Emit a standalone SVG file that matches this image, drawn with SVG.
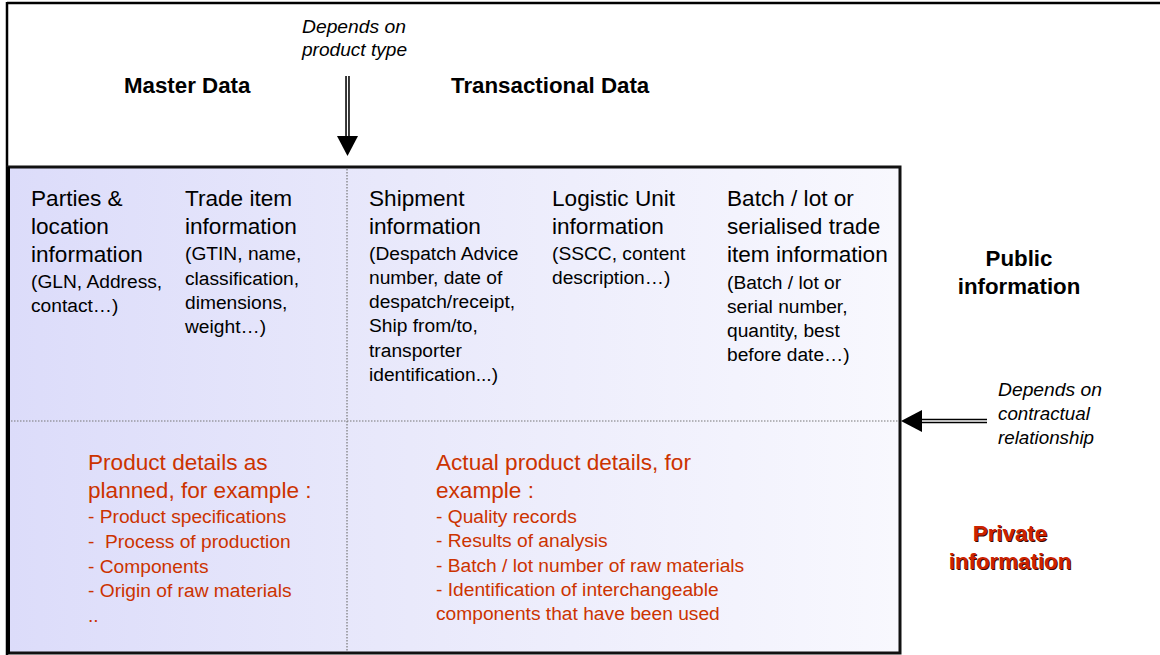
<svg xmlns="http://www.w3.org/2000/svg" width="1160" height="655" viewBox="0 0 1160 655">
<defs>
<linearGradient id="bg" x1="0" y1="0" x2="1" y2="0">
<stop offset="0" stop-color="#dcdcfa"/>
<stop offset="0.45" stop-color="#e9e9fb"/>
<stop offset="1" stop-color="#f8f8fe"/>
</linearGradient>
<style>
.t{font-family:"Liberation Sans",Arial,sans-serif;fill:#000}
.h{font-size:22.6px}
.s{font-size:19.2px}
.b{font-weight:bold;font-size:22.3px}
.i{font-style:italic;font-size:18.8px}
.r{fill:#cc3300}
.rb{fill:#cc2200;font-weight:bold;font-size:22.3px}
.sh{fill:#3a0800;font-weight:bold;font-size:22.3px}
.dot{stroke:#777;stroke-width:1.2;stroke-dasharray:1.5 1.5;fill:none}
.shaft{stroke:#000;stroke-width:4.5;fill:none}
.gap{stroke:#fff;stroke-width:1.4;fill:none}
</style>
</defs>
<rect width="1160" height="655" fill="#fff"/>
<g id="frame">
<line x1="7" y1="3" x2="1160" y2="3" stroke="#000" stroke-width="2.5"/>
<line x1="7" y1="2" x2="7" y2="655" stroke="#000" stroke-width="2.5"/>
</g>
<g id="box">
<rect x="8" y="167" width="892" height="486" fill="url(#bg)" stroke="#111" stroke-width="3"/>
<line x1="8" y1="167" x2="8" y2="654" stroke="#000" stroke-width="4"/>
<line class="dot" x1="347" y1="169" x2="347" y2="652"/>
<line class="dot" x1="11" y1="421" x2="898" y2="421"/>
</g>
<g id="header-labels">
<g id="master-data"><text class="t b" x="124" y="93">Master Data</text></g>
<g id="transactional-data"><text class="t b" x="451" y="93">Transactional Data</text></g>
<g id="depends-product"><text class="t i" x="302" y="33" textLength="104" lengthAdjust="spacingAndGlyphs">Depends on</text><text class="t i" x="302" y="56" textLength="105" lengthAdjust="spacingAndGlyphs">product type</text></g>
</g>
<g id="parties">
<text class="t h" x="31" y="206">Parties &amp;</text>
<text class="t h" x="31" y="234">location</text>
<text class="t h" x="31" y="262">information</text>
<text class="t s" x="31" y="288">(GLN, Address,</text>
<text class="t s" x="31" y="312">contact…)</text>
</g>
<g id="trade-item">
<text class="t h" x="185" y="206">Trade item</text>
<text class="t h" x="185" y="234">information</text>
<text class="t s" x="185" y="260">(GTIN, name,</text>
<text class="t s" x="185" y="285">classification,</text>
<text class="t s" x="185" y="309">dimensions,</text>
<text class="t s" x="185" y="333">weight…)</text>
</g>
<g id="shipment">
<text class="t h" x="369" y="206">Shipment</text>
<text class="t h" x="369" y="234">information</text>
<text class="t s" x="369" y="260">(Despatch Advice</text>
<text class="t s" x="369" y="284">number, date of</text>
<text class="t s" x="369" y="308">despatch/receipt,</text>
<text class="t s" x="369" y="332">Ship from/to,</text>
<text class="t s" x="369" y="357">transporter</text>
<text class="t s" x="369" y="381">identification...)</text>
</g>
<g id="logistic-unit">
<text class="t h" x="552" y="206">Logistic Unit</text>
<text class="t h" x="552" y="234">information</text>
<text class="t s" x="552" y="260">(SSCC, content</text>
<text class="t s" x="552" y="284">description…)</text>
</g>
<g id="batch">
<text class="t h" x="727" y="206">Batch / lot or</text>
<text class="t h" x="727" y="234">serialised trade</text>
<text class="t h" x="727" y="262">item information</text>
<text class="t s" x="727" y="289">(Batch / lot or</text>
<text class="t s" x="727" y="313">serial number,</text>
<text class="t s" x="727" y="337">quantity, best</text>
<text class="t s" x="727" y="361">before date…)</text>
</g>
<g id="planned-details">
<text class="t h r" x="88" y="470">Product details as</text>
<text class="t h r" x="88" y="498">planned, for example :</text>
<text class="t s r" x="88" y="523">- Product specifications</text>
<text class="t s r" x="88" y="548" xml:space="preserve">-  Process of production</text>
<text class="t s r" x="88" y="573">- Components</text>
<text class="t s r" x="88" y="597">- Origin of raw materials</text>
<text class="t s r" x="88" y="622">..</text>
</g>
<g id="actual-details">
<text class="t h r" x="436" y="470">Actual product details, for</text>
<text class="t h r" x="436" y="498">example :</text>
<text class="t s r" x="436" y="523">- Quality records</text>
<text class="t s r" x="436" y="547">- Results of analysis</text>
<text class="t s r" x="436" y="572">- Batch / lot number of raw materials</text>
<text class="t s r" x="436" y="596">- Identification of interchangeable</text>
<text class="t s r" x="436" y="620">components that have been used</text>
</g>
<g id="public-info">
<text class="t b" x="1019" y="266" text-anchor="middle">Public</text>
<text class="t b" x="1019" y="294" text-anchor="middle">information</text>
</g>
<g id="private-info">
<text class="t sh" x="1011" y="542" text-anchor="middle">Private</text>
<text class="t sh" x="1011" y="570" text-anchor="middle">information</text>
<text class="t rb" x="1010" y="541" text-anchor="middle">Private</text>
<text class="t rb" x="1010" y="569" text-anchor="middle">information</text>
</g>
<g id="depends-contract">
<text class="t i" x="998" y="396" textLength="104" lengthAdjust="spacingAndGlyphs">Depends on</text>
<text class="t i" x="998" y="420">contractual</text>
<text class="t i" x="998" y="444">relationship</text>
</g>
<g id="connectors">
<line class="shaft" x1="347.5" y1="76" x2="347.5" y2="137"/>
<line class="gap" x1="347.5" y1="76" x2="347.5" y2="137"/>
<polygon points="337,136 358,136 347.5,156" fill="#000"/>
<line class="shaft" x1="987" y1="421" x2="920" y2="421"/>
<line class="gap" x1="987" y1="421" x2="920" y2="421"/>
<polygon points="922,410 922,432 901,421" fill="#000"/>
</g>
</svg>
